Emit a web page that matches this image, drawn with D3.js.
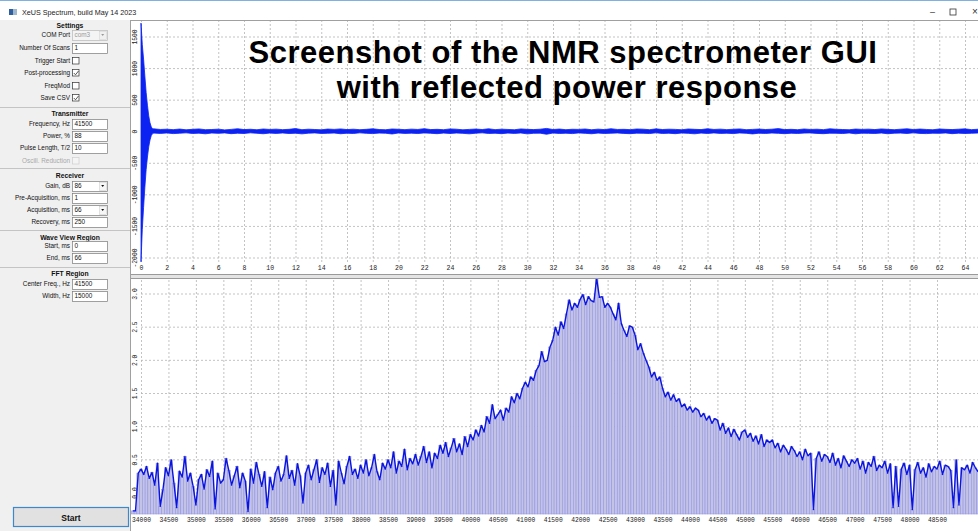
<!DOCTYPE html>
<html>
<head>
<meta charset="utf-8">
<script src="https://cdn.jsdelivr.net/npm/d3@7"></script>
<style>
  body { margin: 0; background: #fff; overflow: hidden; }
  svg { display: block; }
</style>
</head>
<body>
<svg id="app" width="978" height="531"></svg>
<script>
// ---- wave view (time domain), ms / arb. units ----
const timeTicks = [0,2,4,6,8,10,12,14,16,18,20,22,24,26,28,30,32,34,36,38,40,42,44,46,48,50,52,54,56,58,60,62,64];
const waveTicks = [1500, 1000, 500, 0, -500, -1000, -1500, -2000];

// ring-down right after the pulse (envelope of the oscillation)
const ringT  = [0, 0.05, 0.1, 0.2, 0.3, 0.4, 0.5, 0.6, 0.7, 0.8, 0.9];
const ringHi = [1720, 1550, 1380, 1150, 880, 620, 420, 250, 140, 75, 45];
const ringLo = [-2060, -1800, -1550, -1200, -880, -600, -400, -240, -130, -60, -30];

// noise band after ring-down, every 0.5 ms starting at 1.0 ms
const noiseStart = 1.0, noiseStep = 0.5;
const noiseHi = [45,36,40,33,42,30,38,44,32,35,41,29,37,47,34,39,31,43,36,41,
  33,38,50,32,40,35,30,42,37,44,34,40,32,38,46,35,31,43,39,33,
  41,36,48,34,38,32,44,40,30,37,42,35,46,33,40,36,31,44,38,34,
  40,52,35,42,32,39,37,43,31,41,34,47,36,38,33,43,40,32,45,35,
  40,37,31,43,38,34,47,36,41,33,39,44,32,37,42,35,40,49,34,38,
  32,43,36,40,33,46,39,35,31,42,37,41,34,44,38,32,40,46,35,42,
  36,31,43,38,34,40,45,33,39,36,42];
const noiseLo = [-22,-27,-20,-30,-24,-18,-28,-23,-33,-21,-26,-19,-31,-24,-28,-18,-25,-32,-22,-27,
  -20,-29,-24,-34,-23,-19,-28,-25,-21,-32,-24,-28,-18,-26,-30,-22,-24,-36,-20,-27,
  -23,-29,-19,-25,-31,-22,-28,-21,-26,-33,-24,-18,-28,-24,-31,-22,-27,-20,-34,-25,
  -23,-40,-21,-28,-24,-30,-19,-26,-32,-22,-28,-24,-20,-27,-31,-23,-25,-29,-18,-28,
  -24,-31,-21,-26,-33,-22,-28,-19,-27,-24,-30,-20,-25,-35,-23,-28,-21,-26,-31,-24,
  -28,-22,-19,-27,-31,-24,-25,-29,-20,-33,-23,-26,-28,-21,-32,-24,-22,-28,-18,-27,
  -30,-24,-26,-20,-31,-23,-28,-25,-21,-29,-24];

// ---- FFT region, Hz ----
const freqTicks = [34000,34500,35000,35500,36000,36500,37000,37500,38000,38500,39000,39500,40000,40500,41000,
  41500,42000,42500,43000,43500,44000,44500,45000,45500,46000,46500,47000,47500,48000,48500];
const specTicks = [3.0, 2.5, 2.0, 1.5, 1.0, 0.5, 0.0];
const specStart = 33850, specStep = 50;
const specValues = [
  -0.27, -0.27, 0.30,
  0.36, 0.28, 0.40, 0.22, 0.31, 0.12, 0.45, -0.20, 0.05, 0.38,
  0.26, 0.50, 0.15, -0.22, 0.33, 0.24, 0.55, 0.18, 0.30, 0.10,
  -0.18, 0.20, 0.28, 0.06, 0.35, 0.25, 0.48, -0.24, 0.30, 0.15,
  0.20, 0.52, 0.34, 0.12, 0.26, 0.40, 0.08, 0.30, 0.18, -0.28,
  0.36, 0.15, 0.46, 0.28, 0.10, 0.32, -0.22, 0.24, 0.05, 0.30,
  0.40, 0.18, 0.28, 0.56, 0.22, 0.34, 0.12, 0.44, 0.26, -0.15,
  0.30, 0.42, 0.20, 0.35, 0.50, 0.16, 0.38, 0.28, 0.45, 0.10,
  0.34, -0.18, 0.48, 0.30, 0.14, 0.40, 0.55, 0.28, 0.36, 0.22,
  0.42, 0.30, 0.50, 0.26, 0.38, 0.58, 0.32, 0.20, 0.45, 0.36,
  0.50, 0.38, 0.62, 0.30, 0.48, 0.40, 0.66, 0.35, 0.52, 0.44,
  0.58, 0.42, 0.55, 0.70, 0.46, 0.62, 0.38, 0.60, 0.52, 0.72,
  0.60, 0.76, 0.55, 0.68, 0.82, 0.62, 0.74, 0.58, 0.85, 0.70,
  0.88, 0.80, 0.95, 0.86, 1.02, 0.92, 1.15, 1.05, 1.33, 1.12,
  1.18, 1.25, 1.10, 1.28, 1.22, 1.45, 1.36, 1.50, 1.42, 1.58,
  1.67, 1.60, 1.75, 1.70, 1.85, 1.92, 2.13, 1.98, 2.00, 2.20,
  2.30, 2.50, 2.38, 2.58, 2.48, 2.70, 2.91, 2.76, 2.86, 2.80,
  2.92, 2.99, 2.84, 2.96, 2.90, 2.88, 3.24, 2.95, 2.96, 2.80,
  2.86, 2.80, 2.70, 2.61, 2.86, 2.55, 2.45, 2.36, 2.52, 2.50,
  2.38, 2.16, 2.25, 2.11, 2.00, 1.90, 1.75, 1.82, 1.70, 1.75,
  1.58, 1.45, 1.52, 1.40, 1.48, 1.38, 1.42, 1.30, 1.34, 1.25,
  1.30, 1.22, 1.28, 1.25, 1.15, 1.20, 1.10, 1.16, 1.05, 1.12,
  1.10, 0.95, 1.05, 0.90, 0.98, 0.85, 0.96, 0.88, 0.80, 0.92,
  0.95, 0.84, 0.90, 0.78, 0.86, 0.74, 0.88, 0.70, 0.80, 0.76,
  0.80, 0.68, 0.75, 0.62, 0.72, 0.66, 0.58, 0.70, 0.64, 0.55,
  0.62, 0.50, 0.66, 0.56, 0.60, -0.25, 0.52, 0.62, 0.48, 0.58,
  0.55, 0.46, 0.60, 0.42, 0.52, 0.38, 0.56, 0.48, 0.40, 0.50,
  0.45, 0.52, 0.36, 0.48, 0.30, 0.46, 0.40, 0.55, 0.34, 0.42,
  0.38, 0.48, 0.30, 0.44, -0.22, 0.40, -0.20, 0.36, 0.45, 0.28,
  0.42, -0.25, 0.35, 0.46, 0.30, 0.38, 0.24, 0.44, 0.32, 0.40,
  0.36, 0.48, 0.28, 0.42, 0.40, 0.34, -0.22, 0.50, -0.18, 0.38,
  0.35, 0.42, 0.30, 0.46, 0.38, 0.32
];

// ---- settings panel ----
const panelRows = [
  { kind: "head", text: "Settings", y: 25 },
  { kind: "combo", text: "COM Port", value: "com3", y: 35, disabled: true },
  { kind: "input", text: "Number Of Scans", value: "1", y: 48 },
  { kind: "check", text: "Trigger Start", y: 61, checked: false },
  { kind: "check", text: "Post-processing", y: 73, checked: true },
  { kind: "check", text: "FreqMod", y: 86, checked: false },
  { kind: "check", text: "Save CSV", y: 98, checked: true },
  { kind: "sep", y: 107 },
  { kind: "head", text: "Transmitter", y: 113 },
  { kind: "input", text: "Frequency, Hz", value: "41500", y: 124 },
  { kind: "input", text: "Power, %", value: "88", y: 136 },
  { kind: "input", text: "Pulse Length, T/2", value: "10", y: 148 },
  { kind: "check", text: "Oscill. Reduction", y: 161, checked: false, disabled: true },
  { kind: "sep", y: 168 },
  { kind: "head", text: "Receiver", y: 175 },
  { kind: "combo", text: "Gain, dB", value: "86", y: 186 },
  { kind: "input", text: "Pre-Acquisition, ms", value: "1", y: 198 },
  { kind: "combo", text: "Acquisition, ms", value: "66", y: 210 },
  { kind: "input", text: "Recovery, ms", value: "250", y: 222 },
  { kind: "sep", y: 230 },
  { kind: "head", text: "Wave View Region", y: 237 },
  { kind: "input", text: "Start, ms", value: "0", y: 246 },
  { kind: "input", text: "End, ms", value: "66", y: 258 },
  { kind: "sep", y: 267 },
  { kind: "head", text: "FFT Region", y: 273 },
  { kind: "input", text: "Center Freq., Hz", value: "41500", y: 284 },
  { kind: "input", text: "Width, Hz", value: "15000", y: 296 }
];

const svg = d3.select("#app");
const uiFont = "'Liberation Sans', Arial, sans-serif";
const axFont = "'Liberation Mono', 'DejaVu Sans Mono', monospace";

// window chrome
svg.append("rect").attr("width", 978).attr("height", 531).attr("fill", "#ffffff");
svg.append("rect").attr("x", 0).attr("y", 0).attr("width", 978).attr("height", 1).attr("fill", "#7fb2e0");
svg.append("rect").attr("x", 9).attr("y", 9).attr("width", 4).attr("height", 6).attr("fill", "#2f5f9e");
svg.append("rect").attr("x", 13).attr("y", 9).attr("width", 4).attr("height", 6).attr("fill", "#9fb6cf");
svg.append("text").attr("x", 22).attr("y", 15).attr("font-family", uiFont).attr("font-size", 7.2)
  .attr("fill", "#222").text("XeUS Spectrum, build May 14 2023");
svg.append("text").attr("x", 930).attr("y", 15).attr("font-family", uiFont).attr("font-size", 9).attr("fill", "#333").text("\u2013");
svg.append("rect").attr("x", 950).attr("y", 9).attr("width", 6).attr("height", 6).attr("fill", "none").attr("stroke", "#333").attr("stroke-width", 0.8);
svg.append("text").attr("x", 972).attr("y", 15).attr("font-family", uiFont).attr("font-size", 10).attr("fill", "#333").text("\u00d7");

// left panel
svg.append("rect").attr("x", 0).attr("y", 20).attr("width", 131).attr("height", 511).attr("fill", "#f0f0f0");
svg.append("line").attr("x1", 130.5).attr("x2", 130.5).attr("y1", 20).attr("y2", 531).attr("stroke", "#a0a0a0");

const labelX = 70, boxX = 72, boxW = 35, boxH = 10;
panelRows.forEach(r => {
  if (r.kind === "sep") {
    svg.append("line").attr("x1", 0).attr("x2", 130).attr("y1", r.y + 0.5).attr("y2", r.y + 0.5).attr("stroke", "#c4c4c4");
    return;
  }
  if (r.kind === "head") {
    svg.append("text").attr("x", 70).attr("y", r.y + 2.5).attr("text-anchor", "middle")
      .attr("font-family", uiFont).attr("font-size", 6.8).attr("font-weight", "bold").attr("fill", "#111").text(r.text);
    return;
  }
  svg.append("text").attr("x", labelX).attr("y", r.y + 2.3).attr("text-anchor", "end")
    .attr("font-family", uiFont).attr("font-size", 6.4).attr("fill", r.disabled && r.kind === "check" ? "#a8a8a8" : "#111").text(r.text);
  if (r.kind === "input" || r.kind === "combo") {
    svg.append("rect").attr("x", boxX + 0.5).attr("y", r.y - 4.5).attr("width", boxW).attr("height", boxH)
      .attr("fill", r.disabled ? "#f4f4f4" : "#fff").attr("stroke", r.disabled ? "#b8b8b8" : "#7a7a7a").attr("stroke-width", 0.7);
    svg.append("text").attr("x", boxX + 2.5).attr("y", r.y + 2.3).attr("font-family", uiFont).attr("font-size", 6.4)
      .attr("fill", r.disabled ? "#9a9a9a" : "#111").text(r.value);
    if (r.kind === "combo") {
      svg.append("rect").attr("x", boxX + boxW - 7.5).attr("y", r.y - 3.5).attr("width", 7).attr("height", 8)
        .attr("fill", r.disabled ? "#f0f0f0" : "#f6f6f6").attr("stroke", r.disabled ? "#cfcfcf" : "#c8c8c8").attr("stroke-width", 0.5);
      svg.append("path").attr("d", `M${boxX + boxW - 5.8},${r.y - 1} l3,0 l-1.5,2 z`).attr("fill", r.disabled ? "#999" : "#111");
    }
  }
  if (r.kind === "check") {
    svg.append("rect").attr("x", boxX + 0.5).attr("y", r.y - 3.5).attr("width", 6.5).attr("height", 6.5)
      .attr("fill", r.disabled ? "#f4f4f4" : "#fff").attr("stroke", r.disabled ? "#cfcfcf" : "#333").attr("stroke-width", 0.7);
    if (r.checked) {
      svg.append("path").attr("d", `M${boxX + 1.8},${r.y} l1.7,1.8 l3,-3.8`).attr("fill", "none")
        .attr("stroke", "#333").attr("stroke-width", 0.8);
    }
  }
});

// start button
svg.append("rect").attr("x", 13.5).attr("y", 507.5).attr("width", 115).attr("height", 19)
  .attr("fill", "#e1e1e1").attr("stroke", "#3d88c9").attr("stroke-width", 1.2);
svg.append("text").attr("x", 71).attr("y", 520.5).attr("text-anchor", "middle")
  .attr("font-family", uiFont).attr("font-size", 8.5).attr("font-weight", "bold").attr("fill", "#111").text("Start");

// chart frames
svg.append("line").attr("x1", 131).attr("x2", 978).attr("y1", 20.5).attr("y2", 20.5).attr("stroke", "#a0a0a0");
svg.append("rect").attr("x", 131).attr("y", 275).attr("width", 847).attr("height", 3).attr("fill", "#e4e4e4");
svg.append("line").attr("x1", 131).attr("x2", 978).attr("y1", 274.5).attr("y2", 274.5).attr("stroke", "#9a9a9a");
svg.append("line").attr("x1", 131).attr("x2", 978).attr("y1", 278.5).attr("y2", 278.5).attr("stroke", "#9a9a9a");

const defs = svg.append("defs");
defs.append("clipPath").attr("id", "clipTop").append("rect").attr("x", 131).attr("y", 21).attr("width", 847).attr("height", 242);
defs.append("clipPath").attr("id", "clipBot").append("rect").attr("x", 131).attr("y", 279).attr("width", 847).attr("height", 236);

// ---- top chart: wave ----
const xTime = d3.scaleLinear().domain([0, 64]).range([141, 965]);
const yWave = d3.scaleLinear().domain([-2000, 1500]).range([258, 37]);
const topBottom = 262;

const gxTop = svg.append("g").attr("transform", `translate(0,${topBottom})`)
  .call(d3.axisBottom(xTime).tickValues(timeTicks).tickFormat(d3.format("d")).tickSize(-(topBottom - 21)).tickPadding(3.5));
gxTop.select(".domain").remove();
gxTop.selectAll("line").attr("stroke", "#b4b4b4").attr("stroke-dasharray", "2,2").attr("stroke-width", 0.8);
gxTop.selectAll("text").attr("font-family", axFont).attr("font-size", 6.5).attr("fill", "#222");

const gyTop = svg.append("g");
gyTop.selectAll("line").data(waveTicks).join("line")
  .attr("x1", 141).attr("x2", 978).attr("y1", d => yWave(d)).attr("y2", d => yWave(d))
  .attr("stroke", "#b4b4b4").attr("stroke-dasharray", "2,2").attr("stroke-width", 0.8);
gyTop.selectAll("text").data(waveTicks).join("text")
  .attr("transform", d => `translate(137,${yWave(d)}) rotate(-90)`)
  .attr("text-anchor", "middle").attr("font-family", axFont).attr("font-size", 6.3).attr("fill", "#222")
  .text(d => d);

const waveT = ringT.concat(noiseHi.map((_, i) => noiseStart + i * noiseStep));
const waveHi = ringHi.concat(noiseHi);
const waveLo = ringLo.concat(noiseLo);
const wavePts = waveT.map((t, i) => ({ t, hi: waveHi[i], lo: waveLo[i] }));

svg.append("path").datum(wavePts).attr("clip-path", "url(#clipTop)")
  .attr("d", d3.area().x(d => xTime(d.t)).y0(d => yWave(d.lo)).y1(d => yWave(d.hi)))
  .attr("fill", "#0b22f2").attr("stroke", "#0b22f2").attr("stroke-width", 0.8);

// ---- bottom chart: spectrum ----
const xFreq = d3.scaleLinear().domain([34000, 48500]).range([141, 937]);
const ySpec = d3.scaleLinear().domain([0, 3]).range([493, 294]);
const botBottom = 514;

const gxBot = svg.append("g").attr("transform", `translate(0,${botBottom})`)
  .call(d3.axisBottom(xFreq).tickValues(freqTicks).tickFormat(d3.format("d")).tickSize(-(botBottom - 279)).tickPadding(3.5));
gxBot.select(".domain").remove();
gxBot.selectAll("line").attr("stroke", "#b4b4b4").attr("stroke-dasharray", "2,2").attr("stroke-width", 0.8);
gxBot.selectAll("text").attr("font-family", axFont).attr("font-size", 6.3).attr("fill", "#222");

const gyBot = svg.append("g");
gyBot.selectAll("line").data(specTicks).join("line")
  .attr("x1", 141).attr("x2", 978).attr("y1", d => ySpec(d)).attr("y2", d => ySpec(d))
  .attr("stroke", "#b4b4b4").attr("stroke-dasharray", "2,2").attr("stroke-width", 0.8);
gyBot.selectAll("text").data(specTicks).join("text")
  .attr("transform", d => `translate(137,${ySpec(d)}) rotate(-90)`)
  .attr("text-anchor", "middle").attr("font-family", axFont).attr("font-size", 6.3).attr("fill", "#222")
  .text(d => d.toFixed(1));

const specPts = specValues.map((v, i) => ({ f: specStart + i * specStep, v }));
const barW = xFreq(specStart + specStep) - xFreq(specStart);
const gBars = svg.append("g").attr("clip-path", "url(#clipBot)");
gBars.selectAll("rect").data(specPts).join("rect")
  .attr("x", d => xFreq(d.f) - barW / 2).attr("width", barW)
  .attr("y", d => ySpec(d.v)).attr("height", d => botBottom - ySpec(d.v))
  .attr("fill", "#c3c3e6").attr("stroke", "#8d8de4").attr("stroke-width", 0.5);
gBars.append("path").datum(specPts)
  .attr("d", d3.line().x(d => xFreq(d.f)).y(d => ySpec(d.v)))
  .attr("fill", "none").attr("stroke", "#0a14e0").attr("stroke-width", 1.4).attr("stroke-linejoin", "round");

// overlay caption
const cap = svg.append("g").attr("font-family", "'Liberation Sans', Arial, sans-serif")
  .attr("font-weight", "bold").attr("font-size", 31).attr("letter-spacing", 0.5)
  .attr("fill", "#000").attr("text-anchor", "middle");
cap.append("text").attr("x", 563).attr("y", 63).text("Screenshot of the NMR spectrometer GUI");
cap.append("text").attr("x", 567).attr("y", 98).text("with reflected power response");
</script>
</body>
</html>
